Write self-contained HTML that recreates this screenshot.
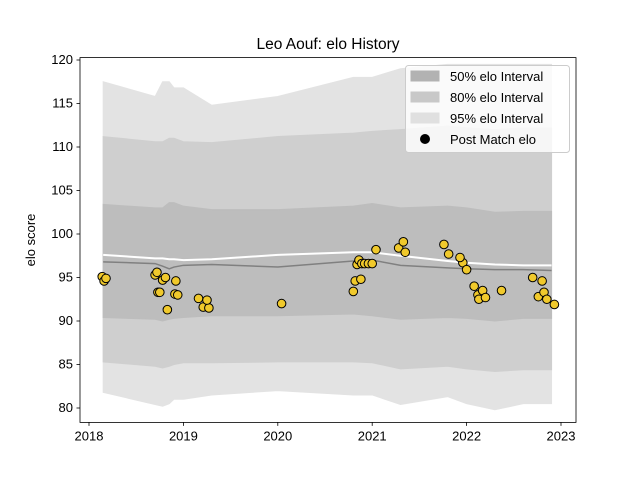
<!DOCTYPE html>
<html><head><meta charset="utf-8"><style>
body{margin:0;background:#fff;}
svg{display:block;font-family:"Liberation Sans","DejaVu Sans",sans-serif;}
</style></head><body>
<svg id="chart" width="640" height="480" viewBox="0 0 640 480"></svg>
<script>
const bandYears = [2018.15,2018.7,2018.78,2018.85,2018.9,2019.0,2019.3,2020.0,2020.8,2021.0,2021.3,2021.8,2022.0,2022.3,2022.6,2022.9];
const median    = [96.8,96.6,96.3,96.0,96.2,96.4,96.5,96.2,96.9,97.0,96.4,96.1,96.0,95.9,95.9,95.8];
const postLine  = [97.6,97.2,97.2,97.1,97.1,97.0,97.1,97.6,97.9,97.9,97.5,96.9,96.7,96.5,96.4,96.4];
const up50 = [103.4,103.0,103.0,103.6,103.6,103.2,102.8,102.8,103.2,103.5,103.0,103.2,103.0,102.5,102.6,102.6];
const lo50 = [90.4,90.2,90.0,90.2,90.3,90.4,90.6,90.6,90.8,90.6,90.2,90.4,90.3,90.0,90.3,90.3];
const up80 = [111.2,110.6,110.6,111.0,111.0,110.6,110.5,111.2,111.6,111.8,112.0,112.4,112.2,112.0,112.2,112.2];
const lo80 = [85.3,84.8,84.6,84.8,85.0,85.2,85.2,85.3,85.3,85.2,84.5,84.8,84.5,84.2,84.4,84.4];
const up95 = [117.5,115.8,117.5,117.5,116.8,116.8,114.8,115.8,118.0,118.0,119.0,119.5,119.5,119.5,119.5,119.5];
const lo95 = [81.8,80.4,80.2,80.5,81.0,81.0,81.5,82.0,81.5,81.5,80.4,81.3,80.5,79.8,80.5,80.5];
const matchYears = [2018.14,2018.16,2018.18,2018.70,2018.72,2018.73,2018.75,2018.78,2018.81,2018.83,2018.92,2018.91,2018.94,2019.16,2019.21,2019.27,2019.25,2020.04,2020.80,2020.82,2020.84,2020.86,2020.89,2020.92,2020.96,2021.00,2021.04,2020.88,2021.28,2021.33,2021.35,2021.76,2021.81,2021.96,2021.93,2022.00,2022.08,2022.12,2022.13,2022.17,2022.20,2022.37,2022.70,2022.76,2022.80,2022.82,2022.85,2022.93];
const matchElo   = [95.1,94.6,94.9,95.3,95.6,93.3,93.3,94.7,95.0,91.3,94.6,93.1,93.0,92.6,91.6,91.5,92.4,92.0,93.4,94.6,96.5,97.0,96.6,96.6,96.6,96.6,98.2,94.8,98.4,99.1,97.9,98.8,97.7,96.7,97.3,95.9,94.0,93.0,92.5,93.5,92.7,93.5,95.0,92.8,94.6,93.3,92.5,91.9];
const yTicks = [80,85,90,95,100,105,110,115,120];
const xTicks = [2018,2019,2020,2021,2022,2023];

const NS="http://www.w3.org/2000/svg";
const svg=document.getElementById('chart');
const L=80,R=576,T=57.6,B=422.4;
const X=v=>89+(v-2018)*94.4;
const Y=v=>60+(120-v)*8.7;
function el(t,a,p){const e=document.createElementNS(NS,t);for(const k in a)e.setAttribute(k,a[k]);(p||svg).appendChild(e);return e;}
function band(up,lo,fill,name){
  let d='M'+bandYears.map((y,i)=>X(y)+','+Y(up[i])).join('L');
  d+='L'+bandYears.slice().reverse().map((y,i)=>X(y)+','+Y(lo[lo.length-1-i])).join('L')+'Z';
  const p=el('path',{d:d,fill:fill,stroke:fill});
  
  
}
band(up95,lo95,'#e3e3e3','band-95');
band(up80,lo80,'#cfcfcf','band-80');
band(up50,lo50,'#bdbdbd','band-50');
const ml=el('polyline',{points:bandYears.map((y,i)=>X(y)+','+Y(median[i])).join(' '),fill:'none',stroke:'#808080','stroke-width':1.5});


const wl=el('polyline',{points:bandYears.map((y,i)=>X(y)+','+Y(postLine[i])).join(' '),fill:'none',stroke:'#fff','stroke-width':2});


matchYears.forEach((y,i)=>{
  const c=el('circle',{cx:X(y),cy:Y(matchElo[i]),r:4.3,fill:'#f0c92c',stroke:'#000','stroke-width':1});
  
  
});
const frame=el('rect',{x:L,y:T,width:R-L,height:B-T,fill:'none',stroke:'#000','stroke-width':0.8});


yTicks.forEach(v=>{
  el('line',{x1:L-3.5,x2:L,y1:Y(v),y2:Y(v),stroke:'#000','stroke-width':0.8});
  const t=el('text',{x:L-7,y:Y(v)+4,'text-anchor':'end','font-size':13});t.textContent=v;
  
  
});
xTicks.forEach(v=>{
  el('line',{x1:X(v),x2:X(v),y1:B,y2:B+3.5,stroke:'#000','stroke-width':0.8});
  const t=el('text',{x:X(v),y:B+18,'text-anchor':'middle','font-size':13});t.textContent=v;
  
  
});
const yt=el('text',{x:0,y:0,transform:'translate(35,240) rotate(-90)','text-anchor':'middle','font-size':13});yt.textContent='elo score';


const ti=el('text',{x:328,y:49,'text-anchor':'middle','font-size':15.5});ti.textContent='Leo Aouf: elo History';


const lg=el('g',{});


el('rect',{x:405.5,y:65.5,width:164,height:87,rx:3,fill:'#fff','fill-opacity':0.8,stroke:'#ccc'},lg);
const items=[['#b2b2b2','50% elo Interval'],['#c8c8c8','80% elo Interval'],['#e0e0e0','95% elo Interval']];
items.forEach((it,i)=>{
  const yy=76+i*21;
  el('rect',{x:411,y:yy-5,width:28,height:10,fill:it[0],stroke:it[0]},lg);
  const t=el('text',{x:450,y:yy+5,'font-size':13},lg);t.textContent=it[1];
  
  
});
el('circle',{cx:425,cy:139,r:5,fill:'#000'},lg);
const t4=el('text',{x:450,y:144,'font-size':13},lg);t4.textContent='Post Match elo';


</script>
</body></html>
